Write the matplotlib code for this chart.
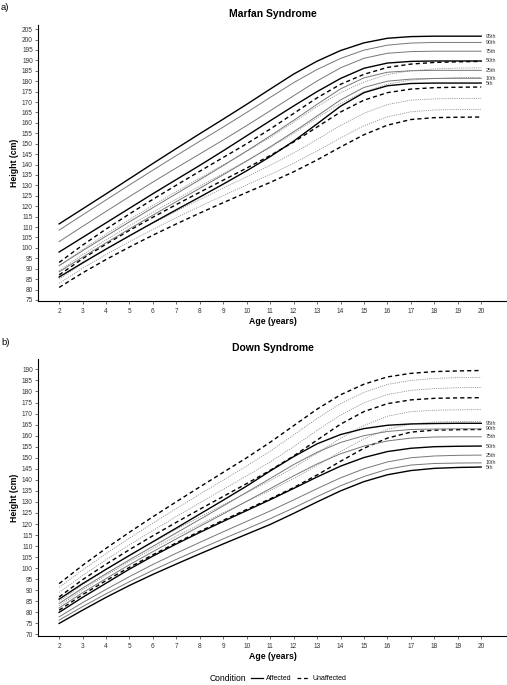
import matplotlib
matplotlib.use("Agg")
import matplotlib.pyplot as plt
from matplotlib.lines import Line2D

plt.rcParams['font.family'] = ['Liberation Sans', 'DejaVu Sans']

ages = list(range(2, 21))
pct_labels = ["95th", "90th", "75th", "50th", "25th", "10th", "5th"]

# unaffected reference (same in both panels)
unaff = {
    "95th": [93, 101.3, 109, 116.3, 123.3, 130.1, 136.8, 143.4, 150, 157, 164.5, 172, 178.5, 183.3, 186.6, 188.2, 189, 189.3, 189.5],
    "90th": [91.3, 99.2, 106.6, 113.6, 120.4, 127, 133.5, 139.9, 146.3, 153, 160.3, 167.8, 174.5, 179.6, 183.2, 185, 185.9, 186.3, 186.4],
    "75th": [89, 96.7, 103.8, 110.6, 117.1, 123.4, 129.6, 135.7, 141.8, 148.1, 155, 162.4, 169.3, 174.9, 178.6, 180.5, 181.3, 181.7, 181.8],
    "50th": [87, 94.8, 101.8, 108.4, 114.7, 120.8, 126.7, 132.5, 138.3, 144.3, 150.8, 158, 165.2, 170.9, 174.5, 176.2, 176.9, 177.1, 177.2],
    "25th": [85, 92.5, 99.3, 105.7, 111.8, 117.6, 123.2, 128.7, 134.1, 139.6, 145.5, 152, 158.8, 164.6, 168.8, 170.9, 171.5, 171.7, 171.8],
    "10th": [83, 90.2, 96.8, 103, 108.9, 114.5, 119.9, 125.1, 130.2, 135.2, 140.6, 146.5, 152.8, 158.6, 162.9, 165.3, 166.2, 166.4, 166.5],
    "5th":  [81, 88, 94.4, 100.4, 106.1, 111.5, 116.7, 121.7, 126.6, 131.4, 136.5, 142.2, 148.4, 154.3, 158.9, 161.6, 162.5, 162.7, 162.8],
}

marfan = {
    "95th": [111.5, 118.7, 125.9, 133.2, 140.5, 147.7, 154.8, 161.8, 168.9, 176.2, 183.4, 189.6, 194.7, 198.4, 200.6, 201.4, 201.6, 201.6, 201.6],
    "90th": [108.5, 115.8, 123, 130.2, 137.3, 144.3, 151.2, 158, 165, 172.2, 179.3, 185.6, 190.9, 194.9, 197.3, 198.3, 198.6, 198.6, 198.6],
    "75th": [103, 110.3, 117.5, 124.6, 131.6, 138.4, 145.1, 151.8, 158.7, 165.8, 173, 180.1, 186.4, 191, 193.4, 194.2, 194.4, 194.4, 194.4],
    "50th": [98, 105, 112, 119, 126, 132.8, 139.6, 146.6, 153.8, 161, 168.1, 175, 181.3, 186.2, 188.7, 189.5, 189.7, 189.7, 189.7],
    "25th": [91.5, 98.6, 105.6, 112.5, 119.3, 126, 132.7, 139.5, 146.5, 153.7, 161.2, 168.9, 176.3, 181.6, 184.3, 185, 185.2, 185.2, 185.2],
    "10th": [88.5, 95.5, 102.4, 109.1, 115.7, 122.2, 128.6, 135.1, 141.7, 148.5, 155.7, 163.3, 171, 177, 180, 181, 181.3, 181.4, 181.4],
    "5th":  [86, 92.8, 99.4, 105.8, 112.1, 118.3, 124.4, 130.6, 137, 143.8, 151.2, 159.5, 168, 174.5, 177.8, 178.9, 179.1, 179.1, 179.1],
}

down = {
    "95th": [86, 93, 99.5, 105.8, 112, 118.2, 124.5, 130.8, 137.2, 144, 150.5, 156.3, 160.5, 163.2, 164.7, 165.3, 165.5, 165.6, 165.6],
    "90th": [84, 91, 97.5, 103.8, 109.9, 116, 122.1, 128.2, 134.4, 140.6, 146.9, 152.5, 156.9, 160, 161.9, 162.8, 163, 163.1, 163.1],
    "75th": [82, 88.9, 95.3, 101.6, 107.5, 113.3, 119, 124.6, 130.3, 136, 141.8, 147.2, 151.8, 155.3, 157.6, 158.9, 159.4, 159.5, 159.5],
    "50th": [80, 86.8, 93.2, 99.6, 105.5, 111, 116.2, 121.2, 126.1, 131, 136.1, 141.3, 146.2, 150.1, 152.8, 154.3, 155, 155.2, 155.3],
    "25th": [78, 84.4, 90.4, 96.2, 101.7, 106.8, 111.7, 116.5, 121.2, 125.9, 130.9, 136, 140.9, 145, 148.1, 150, 150.8, 151.1, 151.2],
    "10th": [76.5, 82.6, 88.4, 93.9, 99.1, 104, 108.7, 113.3, 117.8, 122.4, 127.3, 132.4, 137.3, 141.5, 144.8, 146.7, 147.4, 147.6, 147.7],
    "5th":  [75, 81, 86.8, 92.2, 97.2, 101.9, 106.5, 111, 115.4, 119.8, 124.8, 130, 135, 139.2, 142.3, 144.2, 145.2, 145.6, 145.8],
}

major = ["95th", "50th", "5th"]

fig = plt.figure(figsize=(5.07, 6.85), dpi=100)
ax1 = fig.add_axes([0.075, 0.5606, 0.925, 0.403])
ax2 = fig.add_axes([0.075, 0.0715, 0.925, 0.4044])


def draw(ax, affected, title, ylo, yhi, yticks):
    for p in pct_labels:
        if p in major:
            ax.plot(ages, unaff[p], color='black', lw=1.0, dashes=(3, 2.2))
        else:
            ax.plot(ages, unaff[p], color='#8c8c8c', lw=0.6, dashes=(1.3, 1.3))
    for p in pct_labels:
        if p in major:
            ax.plot(ages, affected[p], color='black', lw=1.0)
        else:
            ax.plot(ages, affected[p], color='#777777', lw=0.7)
        ax.text(20.2, affected[p][-1], p, fontsize=3.8, va='center', ha='left', color='#333333')
    ax.set_xlim(1.1, 21.1)
    ax.set_ylim(ylo, yhi)
    ax.set_xticks(ages)
    ax.set_yticks(yticks)
    ax.tick_params(labelsize=4.7, length=2.2, width=0.5, colors='#333333')
    ax.tick_params(axis='x', pad=2.5)
    ax.tick_params(axis='y', pad=1.5)
    for s in ['top', 'right']:
        ax.spines[s].set_visible(False)
    for s in ['left', 'bottom']:
        ax.spines[s].set_linewidth(0.8)
    ax.set_title(title, fontsize=7.5, fontweight='bold', pad=6)
    ax.set_xlabel("Age (years)", fontsize=6.3, fontweight='bold', labelpad=1.5)
    ax.set_ylabel("Height (cm)", fontsize=6.3, fontweight='bold', labelpad=2)


draw(ax1, marfan, "Marfan Syndrome", 74.5, 207, list(range(75, 206, 5)))
draw(ax2, down, "Down Syndrome", 69.3, 194.7, list(range(70, 191, 5)))

fig.text(0.002, 0.995, "a)", fontsize=6.8, va='top')
fig.text(0.002, 0.507, "b)", fontsize=6.8, va='top')

fig.text(0.485, 0.009, "Condition", fontsize=6.2, ha='right', va='center')
handles = [Line2D([], [], color='black', lw=0.9),
           Line2D([], [], color='black', lw=0.9, dashes=(3, 2.2))]
fig.legend(handles, ["Affected", "Unaffected"], loc='center left', bbox_to_anchor=(0.488, 0.009),
           ncol=2, frameon=False, fontsize=5, handlelength=1.8, handletextpad=0.4,
           columnspacing=0.8, borderpad=0)

fig.savefig("out.png", dpi=100)
